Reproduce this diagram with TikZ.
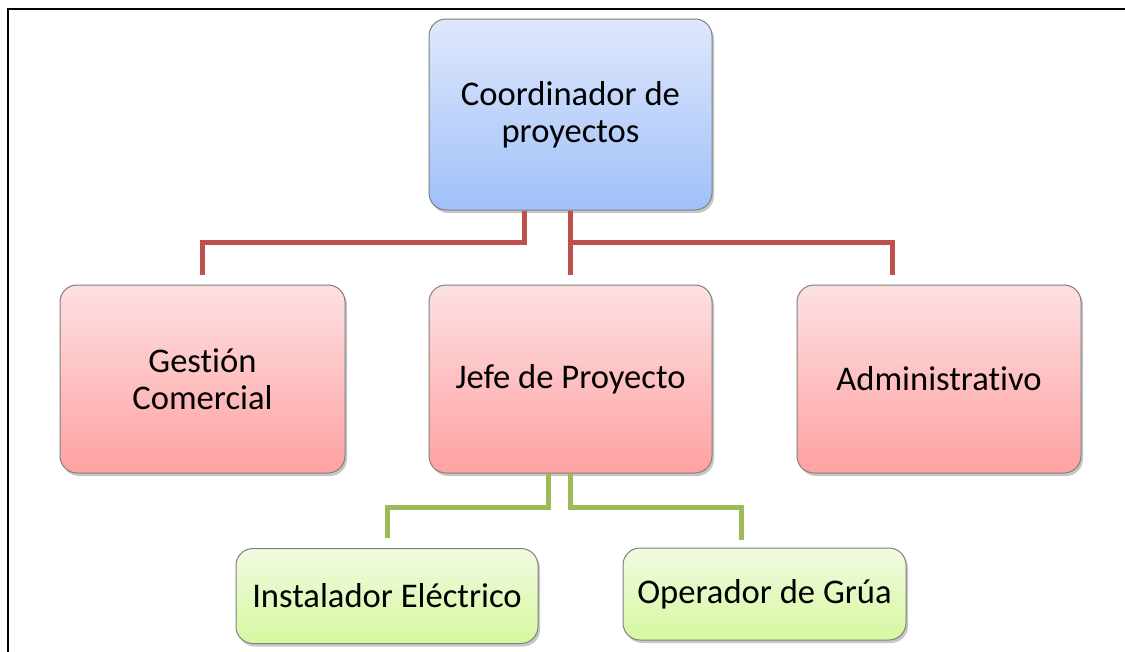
\documentclass[tikz,border=0pt]{standalone}
\usepackage{fontspec}
\setmainfont{Carlito}[RawFeature={-liga;-dlig;-clig}]
\usetikzlibrary{shadows}
\definecolor{blueTop}{RGB}{222,232,251}
\definecolor{blueBot}{RGB}{160,192,250}
\definecolor{redTop}{RGB}{253,224,226}
\definecolor{redBot}{RGB}{255,161,161}
\definecolor{greenTop}{RGB}{242,250,225}
\definecolor{greenBot}{RGB}{214,248,160}
\definecolor{redLine}{RGB}{192,80,77}
\definecolor{greenLine}{RGB}{155,187,89}
\definecolor{boxEdge}{RGB}{128,128,128}
\tikzset{
  orgbox/.style={draw=boxEdge, line width=1pt, rounded corners=17pt,
    align=center, inner sep=0pt,
    font=\fontsize{34.6}{37}\selectfont,
    drop shadow={shadow xshift=2pt, shadow yshift=-3pt, opacity=0.22, fill=black}},
  bluebox/.style={orgbox, top color=blueTop, bottom color=blueBot},
  redbox/.style={orgbox, top color=redTop, bottom color=redBot},
  greenbox/.style={orgbox, top color=greenTop, bottom color=greenBot},
  redconn/.style={draw=redLine, line width=5pt},
  greenconn/.style={draw=greenLine, line width=5pt},
  frameline/.style={draw=black, line width=2pt}
}
\begin{document}
\begin{tikzpicture}[x=1pt, y=-1pt]
\useasboundingbox (0,0) rectangle (1125,651);
% frame
\coordinate (fA) at (8,652);
\coordinate (fB) at (8,9);
\coordinate (fC) at (1126,9);
\draw[frameline] (fA) -- (fB) -- (fC);
% nodes
\node[bluebox, minimum width=283pt, minimum height=191pt] (coord) at (570.5,114.5) {Coordinador de\\proyectos};
\node[redbox, minimum width=285pt, minimum height=188pt] (gest) at (202.5,379) {Gestión\\Comercial};
\node[redbox, minimum width=283pt, minimum height=188pt] (jefe) at (570.5,379) {Jefe de Proyecto};
\node[redbox, minimum width=284pt, minimum height=188pt] (admin) at (939,379) {Administrativo};
\node[greenbox, minimum width=302pt, minimum height=95pt] (inst) at (387,596) {Instalador Eléctrico};
\node[greenbox, minimum width=283pt, minimum height=92pt] (oper) at (764.5,594) {Operador de Grúa};
% red connectors
\draw[redconn] ([xshift=-46.5pt]coord.south) -- ++(0,32) -| ([yshift=10pt]gest.north);
\draw[redconn] (coord.south) -- ([yshift=10pt]jefe.north);
\draw[redconn] ([yshift=-32pt]coord.south) -| ([xshift=-47pt,yshift=10pt]admin.north);
% green connectors
\draw[greenconn] ([xshift=-22.5pt]jefe.south) -- ++(0,34) -| ([yshift=10pt]inst.north);
\draw[greenconn] (jefe.south) -- ++(0,34) -| ([xshift=-23.5pt,yshift=8pt]oper.north);
\end{tikzpicture}
\end{document}
